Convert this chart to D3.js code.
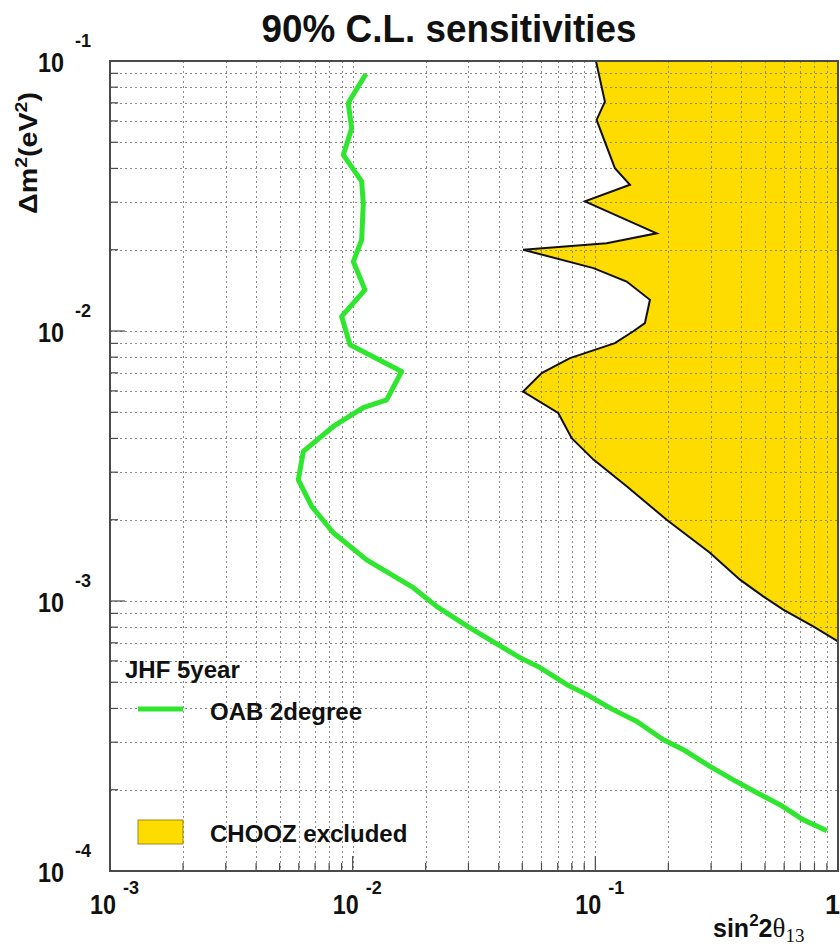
<!DOCTYPE html>
<html>
<head>
<meta charset="utf-8">
<script src="https://cdn.jsdelivr.net/npm/d3@7"></script>
<style>
  body { margin: 0; background: #fff; }
  svg { display: block; }
  text { font-family: "Liberation Sans", Arial, sans-serif; font-weight: bold; fill: #111; }
</style>
</head>
<body>
<script>
// JHF 5 year, off-axis beam 2 degree: 90% C.L. sensitivity contour
const oabSin2 = [0.01134, 0.00975, 0.00959, 0.00991, 0.00915, 0.01089, 0.01106, 0.01089, 0.01006, 0.01124,
                 0.00901, 0.00975, 0.01591, 0.01381, 0.01106, 0.00832, 0.00626, 0.00597, 0.00678, 0.00832,
                 0.01142, 0.01777, 0.02225, 0.02986, 0.03785, 0.0489, 0.0591, 0.0764, 0.0923, 0.1182,
                 0.1484, 0.1899, 0.2296, 0.2966, 0.369, 0.4634, 0.5763, 0.7166, 0.900];
const oabDm2 = [0.0895, 0.0717, 0.0697, 0.0563, 0.0449, 0.0358, 0.0297, 0.02176, 0.01808, 0.01420,
                0.01132, 0.00889, 0.00708, 0.00556, 0.00520, 0.00443, 0.00358, 0.00281, 0.00224, 0.00179,
                0.00142, 0.00112, 0.000953, 0.000804, 0.000707, 0.000617, 0.000567, 0.000490, 0.000450, 0.000396,
                0.000358, 0.000307, 0.000282, 0.000244, 0.000218, 0.000195, 0.000176, 0.000155, 0.000141];

// CHOOZ exclusion boundary (region to the right is excluded)
const choozSin2 = [0.1006, 0.1095, 0.1012, 0.1204, 0.1389, 0.0906, 0.1789, 0.1113, 0.0504, 0.0982,
                   0.1346, 0.1679, 0.1601, 0.1429, 0.1204, 0.0786, 0.0601, 0.0504, 0.0703, 0.0799,
                   0.0982, 0.1346, 0.1967, 0.2966, 0.3944, 0.4919, 0.5944, 0.7903, 1.0];
const choozDm2 = [0.1, 0.0707, 0.0605, 0.0401, 0.0348, 0.0302, 0.0230, 0.02115, 0.0200, 0.0171,
                  0.01525, 0.01305, 0.0107, 0.00996, 0.00902, 0.00794, 0.00699, 0.00597, 0.00497, 0.00401,
                  0.00334, 0.00266, 0.0020, 0.00151, 0.0012, 0.00104, 0.000929, 0.000806, 0.000709];

// axis ranges and labelled decades
const xDomain = [1e-3, 1];
const yDomain = [1e-4, 1e-1];
const xLabelExponents = [-3, -2, -1];
const yLabelExponents = [-1, -2, -3, -4];

const W = 840, H = 946;
const box = { left: 110, right: 838, top: 61, bottom: 871 };

const svg = d3.select("body").append("svg").attr("width", W).attr("height", H);

const x = d3.scaleLog().domain(xDomain).range([box.left, box.right]);
const y = d3.scaleLog().domain(yDomain).range([box.bottom, box.top]);

svg.append("defs").append("clipPath").attr("id", "plotclip")
  .append("rect").attr("x", box.left).attr("y", box.top)
  .attr("width", box.right - box.left).attr("height", box.bottom - box.top);

const plot = svg.append("g").attr("clip-path", "url(#plotclip)");

// excluded region
const choozPts = choozSin2.map((s, i) => [s, choozDm2[i]]);
const fillPts = choozPts.concat([[xDomain[1], yDomain[1]]]);
const line = d3.line().x(d => x(d[0])).y(d => y(d[1]));
plot.append("path").attr("d", line(fillPts) + "Z").attr("fill", "#ffdc00").attr("stroke", "none");

// grid at every log tick
const xt = x.ticks().filter(v => v > xDomain[0] * 1.0001 && v < xDomain[1] * 0.9999);
const yt = y.ticks().filter(v => v > yDomain[0] * 1.0001 && v < yDomain[1] * 0.9999);
const grid = plot.append("g").attr("stroke", "#8a8a8a").attr("stroke-width", 1).attr("stroke-dasharray", "2,3");
grid.selectAll("line.v").data(xt).join("line").attr("class", "v")
  .attr("x1", d => Math.round(x(d)) + 0.5).attr("x2", d => Math.round(x(d)) + 0.5)
  .attr("y1", box.top).attr("y2", box.bottom);
grid.selectAll("line.h").data(yt).join("line").attr("class", "h")
  .attr("y1", d => Math.round(y(d)) + 0.5).attr("y2", d => Math.round(y(d)) + 0.5)
  .attr("x1", box.left).attr("x2", box.right);

// exclusion boundary
plot.append("path").attr("d", line(choozPts)).attr("fill", "none")
  .attr("stroke", "#111").attr("stroke-width", 2).attr("stroke-linejoin", "miter");

// sensitivity curve
const oabPts = oabSin2.map((s, i) => [s, oabDm2[i]]);
plot.append("path").attr("d", line(oabPts)).attr("fill", "none")
  .attr("stroke", "#2ee62e").attr("stroke-width", 5).attr("stroke-linejoin", "round");

// frame
svg.append("rect").attr("x", box.left).attr("y", box.top)
  .attr("width", box.right - box.left).attr("height", box.bottom - box.top)
  .attr("fill", "none").attr("stroke", "#4a4a4a").attr("stroke-width", 2);

// inward ticks: long at decades, short elsewhere
const isDecade = v => Math.abs(Math.log10(v) - Math.round(Math.log10(v))) < 1e-6;
const tickG = svg.append("g").attr("stroke", "#4a4a4a").attr("stroke-width", 1.2);
const xAll = x.ticks(), yAll = y.ticks();
tickG.selectAll("line.xt").data(xAll).join("line").attr("class", "xt")
  .attr("x1", d => x(d)).attr("x2", d => x(d))
  .attr("y1", box.bottom).attr("y2", d => box.bottom - (isDecade(d) ? 15 : 8));
tickG.selectAll("line.yt").data(yAll).join("line").attr("class", "yt")
  .attr("y1", d => y(d)).attr("y2", d => y(d))
  .attr("x1", box.left).attr("x2", d => box.left + (isDecade(d) ? 15 : 8));

// y tick labels
const yl = svg.append("g");
yLabelExponents.forEach(e => {
  const py = y(Math.pow(10, e));
  yl.append("text").attr("x", 64).attr("y", py + 11).attr("text-anchor", "end")
    .attr("font-size", 27).attr("textLength", 26).attr("lengthAdjust", "spacingAndGlyphs").text("10");
  yl.append("text").attr("x", 75).attr("y", py - 14).attr("font-size", 18).text(String(e));
});

// x tick labels
const xl = svg.append("g");
xLabelExponents.forEach(e => {
  const px = x(Math.pow(10, e));
  xl.append("text").attr("x", px + 6).attr("y", 914).attr("text-anchor", "end")
    .attr("font-size", 27).attr("textLength", 26).attr("lengthAdjust", "spacingAndGlyphs").text("10");
  xl.append("text").attr("x", px + 13).attr("y", 894).attr("font-size", 18).text(String(e));
});
xl.append("text").attr("x", 840).attr("y", 914).attr("text-anchor", "end")
  .attr("font-size", 27).text("1");

// stretch a text element horizontally (in its own frame) to a target width
function fitWidth(textSel, target) {
  const w = textSel.node().getComputedTextLength();
  textSel.attr("transform", `scale(${target / w},1)`);
}

// title
const title = svg.append("g").attr("transform", "translate(449,42)")
  .append("text").attr("text-anchor", "middle").attr("font-size", 39).text("90% C.L. sensitivities");
fitWidth(title, 375);

// y axis title
const ytG = svg.append("g").attr("transform", "translate(37,153) rotate(-90)");
const ytT = ytG.append("text").attr("text-anchor", "middle").attr("font-size", 25);
ytT.append("tspan").text("\u0394m");
ytT.append("tspan").attr("font-size", 17).attr("dy", -10).text("2");
ytT.append("tspan").attr("dy", 10).text("(eV");
ytT.append("tspan").attr("font-size", 17).attr("dy", -10).text("2");
ytT.append("tspan").attr("dy", 10).text(")");
fitWidth(ytT, 122);

// x axis title
const xtT = svg.append("text").attr("x", 713).attr("y", 937).attr("font-size", 25);
xtT.append("tspan").text("sin");
xtT.append("tspan").attr("font-size", 17).attr("dy", -11).text("2");
xtT.append("tspan").attr("dy", 11).text("2");
xtT.append("tspan").attr("font-family", "'Liberation Serif', 'Times New Roman', serif")
  .attr("font-weight", "normal").attr("font-size", 27).text("\u03b8");
xtT.append("tspan").attr("font-family", "'Liberation Serif', 'Times New Roman', serif")
  .attr("font-weight", "normal").attr("font-size", 19).attr("dy", 5).text("13");

// legend
const lg = svg.append("g");
lg.append("text").attr("x", 125).attr("y", 678).attr("font-size", 24).text("JHF 5year");
lg.append("line").attr("x1", 138).attr("x2", 183).attr("y1", 709).attr("y2", 709)
  .attr("stroke", "#2ee62e").attr("stroke-width", 5);
lg.append("text").attr("x", 210).attr("y", 720).attr("font-size", 24).text("OAB 2degree");
lg.append("rect").attr("x", 138).attr("y", 820).attr("width", 45).attr("height", 24)
  .attr("fill", "#ffdc00").attr("stroke", "#9c8a10").attr("stroke-width", 1);
lg.append("text").attr("x", 210).attr("y", 842).attr("font-size", 24).text("CHOOZ excluded");
</script>
</body>
</html>
